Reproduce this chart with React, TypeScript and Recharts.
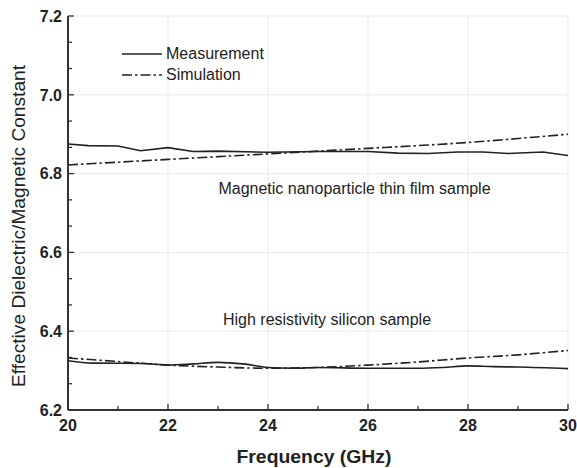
import React from 'react';
import { LineChart, Line, XAxis, YAxis, CartesianGrid, ReferenceDot, Legend } from 'recharts';

// ---- data ----
const measTopFreq = [20, 20.4, 21.0, 21.45, 22.0, 22.5, 23.0, 24.0, 25.0, 26.0, 26.6, 27.2, 27.8, 28.3, 28.8, 29.5, 30];
const measTopVal = [6.875, 6.871, 6.870, 6.858, 6.866, 6.856, 6.857, 6.854, 6.856, 6.856, 6.852, 6.851, 6.855, 6.855, 6.851, 6.855, 6.846];

const simTopFreq = [20, 21, 22, 23, 24, 25, 26, 27, 28, 29, 30];
const simTopVal = [6.822, 6.829, 6.836, 6.843, 6.850, 6.857, 6.864, 6.871, 6.879, 6.889, 6.900];

const measBotFreq = [20, 20.5, 21.5, 22, 22.5, 23, 23.5, 24, 24.5, 25, 26, 27, 27.5, 28, 28.5, 29, 30];
const measBotVal = [6.325, 6.319, 6.318, 6.314, 6.317, 6.321, 6.317, 6.308, 6.306, 6.308, 6.306, 6.306, 6.308, 6.312, 6.310, 6.309, 6.305];

const simBotFreq = [20, 21, 22, 23, 24, 25, 26, 27, 28, 29, 30];
const simBotVal = [6.332, 6.323, 6.314, 6.309, 6.306, 6.308, 6.314, 6.322, 6.332, 6.340, 6.351];

const xMajor = [20, 22, 24, 26, 28, 30];
const xTicks = [20, 21, 22, 23, 24, 25, 26, 27, 28, 29, 30];
const yMajor = [6.2, 6.4, 6.6, 6.8, 7.0, 7.2];

const seriesNames = ['Measurement', 'Simulation'];
const annotations = ['Magnetic nanoparticle thin film sample', 'High resistivity silicon sample'];
const xTitle = 'Frequency (GHz)';
const yTitle = 'Effective Dielectric/Magnetic Constant';

const toPts = (xs: number[], ys: number[]) => xs.map((f, i) => ({ f, v: ys[i] }));

const yTicks: number[] = [];
yMajor.forEach((m, i) => {
  yTicks.push(m);
  if (i < yMajor.length - 1) {
    yTicks.push(m + 0.2 / 3);
    yTicks.push(m + 0.4 / 3);
  }
});

const isMajor = (v: number, majors: number[]) => majors.some((m) => Math.abs(m - v) < 1e-6);

const AX = '#333';
const TXT = '#222';
const FONT = '"Liberation Sans", Arial, sans-serif';
const DASH = '10 3 2.5 3';

const LeftTick = (p: any) => {
  const { x, y, payload } = p;
  const major = isMajor(payload.value, yMajor);
  return (
    <g>
      <line x1={x} y1={y} x2={x + (major ? 6 : 4)} y2={y} stroke={AX} strokeWidth={1.3} />
      {major && (
        <text x={x - 6} y={y} dy="0.36em" textAnchor="end" fontFamily={FONT} fontWeight="bold" fontSize={16} fill={TXT}>
          {payload.value.toFixed(1)}
        </text>
      )}
    </g>
  );
};

const RightTick = (p: any) => {
  const { x, y, payload } = p;
  const major = isMajor(payload.value, yMajor);
  return <line x1={x} y1={y} x2={x - (major ? 6 : 4)} y2={y} stroke={AX} strokeWidth={1.3} />;
};

const BottomTick = (p: any) => {
  const { x, y, payload } = p;
  const major = isMajor(payload.value, xMajor);
  return (
    <g>
      <line x1={x} y1={y} x2={x} y2={y - (major ? 6 : 4)} stroke={AX} strokeWidth={1.3} />
      {major && (
        <text x={x} y={y + 21} textAnchor="middle" fontFamily={FONT} fontWeight="bold" fontSize={16} fill={TXT}>
          {payload.value}
        </text>
      )}
    </g>
  );
};

const TopTick = (p: any) => {
  const { x, y, payload } = p;
  const major = isMajor(payload.value, xMajor);
  return <line x1={x} y1={y} x2={x} y2={y + (major ? 6 : 4)} stroke={AX} strokeWidth={1.3} />;
};

const LegendBox = () => (
  <div style={{ fontFamily: FONT, fontSize: 16, color: TXT, lineHeight: '21px' }}>
    {seriesNames.map((n, i) => (
      <div key={n} style={{ display: 'flex', alignItems: 'center' }}>
        <svg width={44} height={10}>
          <line x1={0} y1={5} x2={40} y2={5} stroke="#222" strokeWidth={1.6} strokeDasharray={i === 1 ? DASH : undefined} />
        </svg>
        <span>{n}</span>
      </div>
    ))}
  </div>
);

const textShape = (label: string) => (p: any) => (
  <text x={p.cx} y={p.cy} dy="0.35em" textAnchor="middle" fontFamily={FONT} fontSize={16} fill={TXT}>
    {label}
  </text>
);

export default function App() {
  return (
    <div style={{ position: 'absolute', left: 0, top: 0, background: '#fff' }}>
      <LineChart width={577} height={468} margin={{ top: 16, right: 9, left: 0, bottom: 0 }}>
        <CartesianGrid
          stroke="#ebebeb"
          strokeWidth={1}
          verticalValues={xMajor}
          horizontalValues={yMajor}
        />
        <XAxis
          type="number"
          dataKey="f"
          domain={[20, 30]}
          ticks={xTicks}
          interval={0}
          height={58}
          tickSize={0}
          tickMargin={0}
          tickLine={false}
          axisLine={{ stroke: AX, strokeWidth: 2 }}
          tick={<BottomTick />}
          allowDataOverflow
          label={{
            content: () => (
              <text x={314} y={463} textAnchor="middle" fontFamily={FONT} fontWeight="bold" fontSize={18} textLength={155} lengthAdjust="spacingAndGlyphs" fill={TXT}>
                {xTitle}
              </text>
            ),
          }}
        />
        <XAxis
          xAxisId="top"
          orientation="top"
          type="number"
          dataKey="f"
          domain={[20, 30]}
          ticks={xTicks}
          interval={0}
          height={0}
          tickSize={0}
          tickMargin={0}
          tickLine={false}
          axisLine={{ stroke: AX, strokeWidth: 2 }}
          tick={<TopTick />}
          allowDataOverflow
        />
        <YAxis
          type="number"
          domain={[6.2, 7.2]}
          ticks={yTicks}
          interval={0}
          width={68}
          tickSize={0}
          tickMargin={0}
          tickLine={false}
          axisLine={{ stroke: AX, strokeWidth: 2 }}
          tick={<LeftTick />}
          allowDataOverflow
          label={{
            content: () => (
              <text x={19} y={226} dy="0.35em" textAnchor="middle" transform="rotate(-90 19 226)" fontFamily={FONT} fontSize={18} textLength={322} lengthAdjust="spacingAndGlyphs" fill={TXT}>
                {yTitle}
              </text>
            ),
          }}
        />
        <YAxis
          yAxisId="right"
          orientation="right"
          type="number"
          domain={[6.2, 7.2]}
          ticks={yTicks}
          interval={0}
          width={0}
          tickSize={0}
          tickMargin={0}
          tickLine={false}
          axisLine={{ stroke: AX, strokeWidth: 2 }}
          tick={<RightTick />}
          allowDataOverflow
        />
        <Legend
          layout="vertical"
          align="center"
          verticalAlign="middle"
          content={() => <LegendBox />}
          wrapperStyle={{ left: 122, top: 43, width: 170, height: 44 }}
        />
        <Line data={toPts(measTopFreq, measTopVal)} dataKey="v" name={seriesNames[0]} type="linear" stroke="#222" strokeWidth={1.6} dot={false} isAnimationActive={false} />
        <Line data={toPts(simTopFreq, simTopVal)} dataKey="v" name={seriesNames[1]} type="monotone" stroke="#222" strokeWidth={1.6} strokeDasharray={DASH} dot={false} isAnimationActive={false} />
        <Line data={toPts(measBotFreq, measBotVal)} dataKey="v" name={seriesNames[0] + ' (Si)'} type="monotone" stroke="#222" strokeWidth={1.6} dot={false} isAnimationActive={false} legendType="none" />
        <Line data={toPts(simBotFreq, simBotVal)} dataKey="v" name={seriesNames[1] + ' (Si)'} type="monotone" stroke="#222" strokeWidth={1.6} strokeDasharray={DASH} dot={false} isAnimationActive={false} legendType="none" />
        <ReferenceDot x={25.73} y={6.763} r={0} shape={textShape(annotations[0])} />
        <ReferenceDot x={25.18} y={6.431} r={0} shape={textShape(annotations[1])} />
      </LineChart>
    </div>
  );
}
